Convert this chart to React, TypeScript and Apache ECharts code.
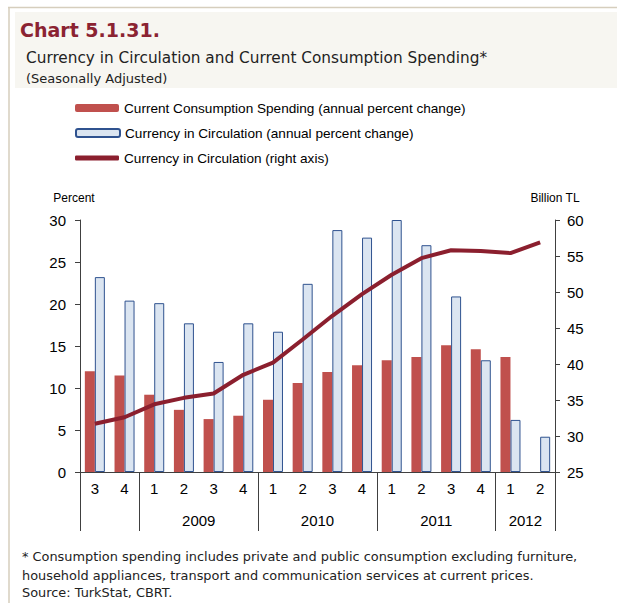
import React, { useEffect, useRef } from 'react';
import * as echarts from 'echarts';

const quarters = ['3', '4', '1', '2', '3', '4', '1', '2', '3', '4', '1', '2', '3', '4', '1', '2'];
const yearLabels = ['', '', '', '', '2009', '', '', '', '2010', '', '', '', '2011', '', '', '2012', ''];
const yearBoundaries = [0, 2, 6, 10, 14, 16];
const spending = [12.0, 11.5, 9.2, 7.4, 6.3, 6.7, 8.6, 10.6, 11.9, 12.7, 13.3, 13.7, 15.1, 14.6, 13.7, null];
const currencyChange = [23.2, 20.4, 20.1, 17.7, 13.1, 17.7, 16.7, 22.4, 28.8, 27.9, 30.0, 27.0, 20.9, 13.3, 6.2, 4.2];
const currencyLevel = [31.7, 32.6, 34.4, 35.3, 35.9, 38.5, 40.2, 43.4, 46.7, 49.7, 52.4, 54.7, 55.8, 55.7, 55.4, 56.9];

const seriesNames = [
  'Current Consumption Spending (annual percent change)',
  'Currency in Circulation (annual percent change)',
  'Currency in Circulation (right axis)',
];

const AXIS = '#404040';
const SANS = '"Liberation Sans", Arial, sans-serif';
const GOTHIC = '"DejaVu Sans", sans-serif';

export default function App() {
  const ref = useRef<HTMLDivElement>(null);
  useEffect(() => {
    document.body.style.margin = '0';
    const chart = echarts.init(ref.current!, null, { renderer: 'svg' });
    const legendBase = {
      left: 70,
      orient: 'horizontal',
      itemWidth: 44,
      itemHeight: 8,
      selectedMode: false,
      textStyle: { fontSize: 13.6, color: '#000', fontFamily: SANS },
    };
    chart.setOption({
      animation: false,
      backgroundColor: '#fff',
      graphic: [
        { type: 'rect', shape: { x: 15, y: 12, width: 602, height: 76 }, style: { fill: '#f7f6f1' }, z: -10 },
        { type: 'line', shape: { x1: 8, y1: 7.5, x2: 617, y2: 7.5 }, style: { stroke: '#d6cebd', lineWidth: 1.5 } },
        { type: 'line', shape: { x1: 9, y1: 7, x2: 9, y2: 603 }, style: { stroke: '#d6cebd', lineWidth: 1.5 } },
        {
          type: 'text',
          style: { text: 'Chart 5.1.31.', x: 20, y: 30, fill: '#8b2332', font: `bold 19px ${GOTHIC}`, verticalAlign: 'middle', textVerticalAlign: 'middle' },
        },
        {
          type: 'text',
          style: { text: 'Currency in Circulation and Current Consumption Spending*', x: 26, y: 58, fill: '#222', font: `15.3px ${GOTHIC}`, verticalAlign: 'middle', textVerticalAlign: 'middle' },
        },
        {
          type: 'text',
          style: { text: '(Seasonally Adjusted)', x: 26, y: 78, fill: '#222', font: `13px ${GOTHIC}`, verticalAlign: 'middle', textVerticalAlign: 'middle' },
        },
        {
          type: 'text',
          style: { text: '* Consumption spending includes private and public consumption excluding furniture,', x: 22, y: 556, fill: '#222', font: `12.9px ${GOTHIC}`, verticalAlign: 'middle', textVerticalAlign: 'middle' },
        },
        {
          type: 'text',
          style: { text: 'household appliances, transport and communication services at current prices.', x: 22, y: 575, fill: '#222', font: `12.9px ${GOTHIC}`, verticalAlign: 'middle', textVerticalAlign: 'middle' },
        },
        {
          type: 'text',
          style: { text: 'Source: TurkStat, CBRT.', x: 22, y: 592, fill: '#222', font: `12.9px ${GOTHIC}`, verticalAlign: 'middle', textVerticalAlign: 'middle' },
        },
      ],
      legend: [
        { ...legendBase, top: 96, data: [seriesNames[0]] },
        { ...legendBase, top: 121, data: [seriesNames[1]] },
        { ...legendBase, top: 146, itemHeight: 5, icon: 'roundRect', data: [seriesNames[2]] },
      ],
      grid: { left: 80, right: 62, top: 220, bottom: 131 },
      xAxis: [
        {
          type: 'category',
          data: quarters,
          position: 'bottom',
          axisLine: { lineStyle: { color: AXIS, width: 1 } },
          axisTick: { length: 29, lineStyle: { color: AXIS } },
          axisLabel: { fontSize: 15, color: '#000', margin: 9, fontFamily: SANS },
        },
        {
          type: 'category',
          data: yearLabels,
          boundaryGap: false,
          position: 'bottom',
          offset: 0,
          axisLine: { show: false },
          axisTick: { show: true, length: 59, interval: (i: number) => yearBoundaries.includes(i), lineStyle: { color: AXIS } },
          axisLabel: { interval: 0, fontSize: 15, color: '#000', margin: 41, fontFamily: SANS },
        },
      ],
      yAxis: [
        {
          type: 'value',
          min: 0,
          max: 30,
          interval: 5,
          position: 'left',
          name: 'Percent',
          nameLocation: 'end',
          nameGap: 16,
          nameTextStyle: { fontSize: 12, color: '#000', fontFamily: SANS, padding: [0, 12, 0, 0] },
          axisLine: { show: true, lineStyle: { color: AXIS } },
          axisTick: { show: true, length: 5, lineStyle: { color: AXIS } },
          axisLabel: { fontSize: 15, color: '#000', margin: 14, fontFamily: SANS },
          splitLine: { show: false },
        },
        {
          type: 'value',
          min: 25,
          max: 60,
          interval: 5,
          position: 'right',
          name: 'Billion TL',
          nameLocation: 'end',
          nameGap: 16,
          nameTextStyle: { fontSize: 12, color: '#000', fontFamily: SANS },
          axisLine: { show: true, lineStyle: { color: AXIS } },
          axisTick: { show: true, length: 5, lineStyle: { color: AXIS } },
          axisLabel: { fontSize: 15, color: '#000', margin: 12, fontFamily: SANS },
          splitLine: { show: false },
        },
      ],
      series: [
        {
          name: seriesNames[0],
          type: 'bar',
          data: spending,
          barWidth: 10,
          barGap: '0%',
          itemStyle: { color: '#c0504d' },
        },
        {
          name: seriesNames[1],
          type: 'bar',
          data: currencyChange,
          barWidth: 10,
          barGap: '0%',
          itemStyle: { color: '#dbe5f1', borderColor: '#2f528f', borderWidth: 1 },
        },
        {
          name: seriesNames[2],
          type: 'line',
          yAxisIndex: 1,
          data: currencyLevel,
          symbol: 'none',
          z: 5,
          lineStyle: { width: 4, color: '#8b1f2e' },
          itemStyle: { color: '#8b1f2e' },
        },
      ],
    });
    return () => chart.dispose();
  }, []);
  return <div ref={ref} style={{ width: 617, height: 603 }} />;
}
